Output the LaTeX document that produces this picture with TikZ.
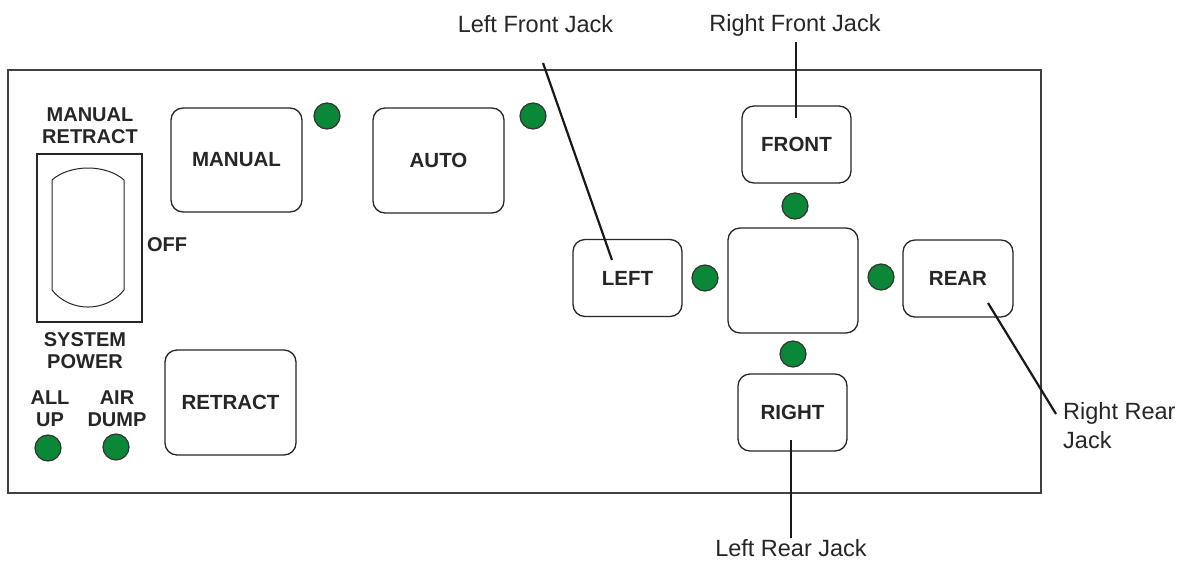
\documentclass[tikz,border=0pt]{standalone}
\usepackage{fontspec}
\setmainfont{Liberation Sans}
\begin{document}
\begin{tikzpicture}[x=1pt,y=-1pt,
  btn/.style={draw=black!85, line width=1.3pt, rounded corners=12pt, inner sep=0pt, fill=white,
    font=\fontsize{20.5}{22}\selectfont\bfseries, text=black!85},
  led/.style={circle, draw=black!80, line width=1.2pt, fill={rgb,255:red,10;green,135;blue,55}, minimum size=26pt, inner sep=0pt},
  lbl/.style={font=\fontsize{20}{22}\selectfont\bfseries, text=black!85, align=center, inner sep=0pt},
  call/.style={font=\fontsize{23.5}{29}\selectfont, text=black!85, inner sep=0pt},
  cline/.style={line width=2.2pt, black!90}]
\useasboundingbox (0,0) rectangle (1180,560);
% panel
\draw[line width=2.4pt, black!75] (8,70) rectangle (1041,493);
% switch
\node[draw=black!85, line width=1.2pt, minimum width=105pt, minimum height=168pt, inner sep=0pt] (switch) at (89.5,238) {};
\draw[black!85, line width=1pt] (52,180) .. controls (70,164) and (106,164) .. (124,180) -- (124,290) .. controls (106,312.7) and (70,312.7) .. (52,290) -- cycle;
\node[lbl] (mrt) at (90,126) {MANUAL\\RETRACT};
\node[lbl] (sp) at (85,351) {SYSTEM\\POWER};
\node[lbl] (off) at (167,245) {OFF};
\node[lbl] (allup) at (50,409) {ALL\\UP};
\node[lbl] (airdump) at (117,409) {AIR\\DUMP};
\node[led] (ledall) at (48,448) {};
\node[led] (ledair) at (116,447) {};
% buttons
\node[btn, minimum width=131pt, minimum height=104pt] (manual) at (236.5,160) {MANUAL};
\node[btn, minimum width=131pt, minimum height=105pt] (auto) at (438.5,160.5) {AUTO};
\node[btn, minimum width=131pt, minimum height=105pt] (retract) at (230.5,402.5) {RETRACT};
\node[btn, minimum width=109pt, minimum height=77pt] (left) at (627.5,278) {LEFT};
\node[btn, minimum width=109pt, minimum height=77pt] (front) at (796.5,144.5) {FRONT};
\node[btn, minimum width=110pt, minimum height=77pt] (rear) at (958,278.5) {REAR};
\node[btn, minimum width=109pt, minimum height=77pt] (right) at (792.5,412.5) {RIGHT};
\node[btn, minimum width=130pt, minimum height=105pt] (center) at (793,280.5) {};
% LEDs
\node[led] (ledman) at (327,116) {};
\node[led] (ledauto) at (533,116) {};
\node[led] (ledleft) at (705,278) {};
\node[led] (ledtop) at (795,206) {};
\node[led] (ledbot) at (793,354) {};
\node[led] (ledrear) at (881,277) {};
% callouts
\node[call] (lfj) at (535.5,24) {Left Front Jack};
\node[call] (rfj) at (795,25) {Right Front Jack};
\node[call, align=left, anchor=west] (rrj) at (1063,426) {Right Rear\\Jack};
\node[call] (lrj) at (791,548) {Left Rear Jack};
\coordinate (lfjA) at (543,63);
\coordinate (lfjB) at (612,260);
\coordinate (rfjA) at (796,42);
\coordinate (rfjB) at (796,118);
\coordinate (rrjA) at (988,303);
\coordinate (rrjB) at (1056,414);
\coordinate (lrjA) at (791,440);
\coordinate (lrjB) at (791,538);
\draw[cline] (lfjA) -- (lfjB);
\draw[cline] (rfjA) -- (rfjB);
\draw[cline] (rrjA) -- (rrjB);
\draw[cline] (lrjA) -- (lrjB);
\end{tikzpicture}
\end{document}
